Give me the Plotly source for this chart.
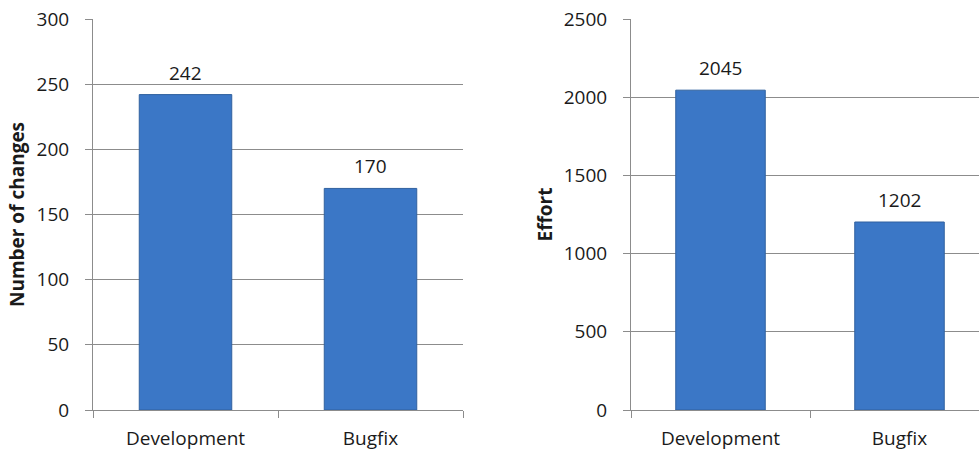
import plotly.graph_objects as go

categories = ["Development", "Bugfix"]
changes = [242, 170]
effort = [2045, 1202]
left_ticks = [0, 50, 100, 150, 200, 250, 300]
right_ticks = [0, 500, 1000, 1500, 2000, 2500]

W, H = 979, 452
FONT = "Open Sans, Liberation Sans, sans-serif"
FS = 19
GRID = "#8c8c8c"
TXT = "#1a1a1a"
BAR = "#3B77C6"
BAR_LINE = "#30619F"

fig = go.Figure()
fig.add_trace(go.Bar(x=categories, y=changes, xaxis="x", yaxis="y",
                     marker=dict(color=BAR, line=dict(color=BAR_LINE, width=1)),
                     width=0.5, showlegend=False))
fig.add_trace(go.Bar(x=categories, y=effort, xaxis="x2", yaxis="y2",
                     marker=dict(color=BAR, line=dict(color=BAR_LINE, width=1)),
                     width=0.5, showlegend=False))

for xa, ya, vals in (("x", "y", changes), ("x2", "y2", effort)):
    for c, v in zip(categories, vals):
        fig.add_annotation(x=c, y=v, xref=xa, yref=ya, text=str(v), showarrow=False,
                           yanchor="bottom", yshift=7,
                           font=dict(family=FONT, size=FS, color=TXT))

ydom = [(H - 410) / H, (H - 19) / H]
common_x = dict(type="category", showline=True, linecolor=GRID, linewidth=1,
                ticks="outside", tickson="boundaries", ticklen=7, tickcolor=GRID,
                showgrid=False, tickfont=dict(family=FONT, size=FS, color=TXT),
                automargin=False, ticklabelstandoff=11)
common_y = dict(showline=True, linecolor=GRID, linewidth=1, ticks="outside",
                ticklen=7, tickcolor=GRID, showgrid=True, gridcolor=GRID, gridwidth=1,
                zeroline=False, tickfont=dict(family=FONT, size=FS, color=TXT),
                automargin=False, ticklabelstandoff=12)

fig.update_layout(
    template="none",
    width=W, height=H, margin=dict(l=0, r=0, t=0, b=0, pad=0),
    paper_bgcolor="white", plot_bgcolor="white",
    xaxis=dict(domain=[93 / W, 463 / W], anchor="y", range=[-0.5, 1.5], **common_x),
    yaxis=dict(domain=ydom, anchor="x", range=[0, 300], tickvals=left_ticks,
               title=dict(text="<b>Number of changes</b>", standoff=6,
                          font=dict(family=FONT, size=FS, color=TXT)), **common_y),
    xaxis2=dict(domain=[631 / W, 1.0], anchor="y2", range=[-0.5, -0.5 + 348 / 179], **common_x),
    yaxis2=dict(domain=ydom, anchor="x2", range=[0, 2500], tickvals=right_ticks,
                title=dict(text="<b>Effort</b>", standoff=6,
                           font=dict(family=FONT, size=FS, color=TXT)), **common_y),
)

fig.write_html("out.html")
